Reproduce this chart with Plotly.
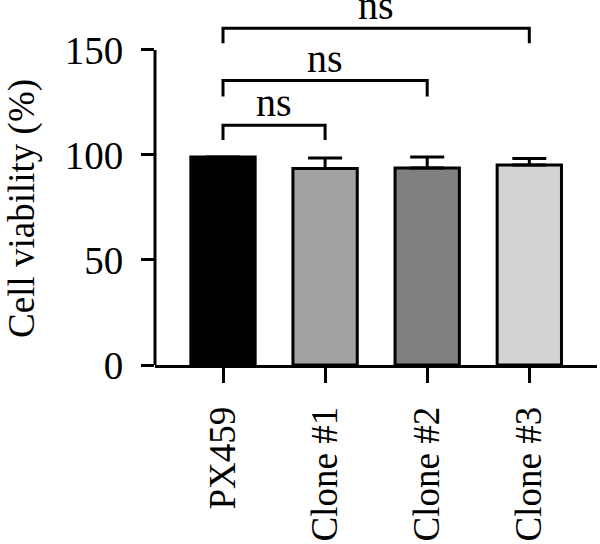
import plotly.graph_objects as go

categories = ["PX459", "Clone #1", "Clone #2", "Clone #3"]
means = [99.0, 93.6, 93.8, 95.2]
errors_up = [0.0, 5.0, 5.2, 3.1]
bar_colors = ["#000000", "#a3a3a3", "#808080", "#d3d3d3"]
y_ticks = [0, 50, 100, 150]
# brackets: (start category index, end category index, bracket y, leg bottom y, label)
brackets = [
    (0, 1, 114.1, 107.1, "ns"),
    (0, 2, 135.4, 127.8, "ns"),
    (0, 3, 160.3, 153.2, "ns"),
]

FONT = "Liberation Serif"

fig = go.Figure()
fig.add_trace(go.Bar(
    x=list(range(len(categories))),
    y=means,
    width=0.63,
    marker=dict(color=bar_colors, line=dict(color="black", width=3)),
    error_y=dict(type="data", array=errors_up, arrayminus=[0] * len(means),
                 symmetric=False, color="black", thickness=3, width=17),
    showlegend=False,
))

shapes = []
# y axis line only from 0 to 150
shapes.append(dict(type="line", xref="paper", yref="y", x0=0, x1=0,
                   y0=y_ticks[0], y1=y_ticks[-1], line=dict(color="black", width=3)))
annotations = []
for (a, b, yb, yl, lab) in brackets:
    shapes.append(dict(type="path", xref="x", yref="y",
                       path=f"M {a},{yl} L {a},{yb} L {b},{yb} L {b},{yl}",
                       line=dict(color="black", width=3)))
    annotations.append(dict(x=(a + b) / 2, y=yb, xref="x", yref="y", text=lab,
                            showarrow=False, yanchor="bottom", yshift=-2,
                            font=dict(family=FONT, size=40, color="black")))

annotations.append(dict(text="Cell viability (%)", xref="paper", yref="paper",
                        x=(22 - 155) / 442, y=(367 - 210) / 345, textangle=-90,
                        showarrow=False, xanchor="center", yanchor="middle",
                        font=dict(family=FONT, size=37, color="black")))

fig.update_layout(
    width=600, height=544,
    margin=dict(l=155, r=3, t=22, b=177),
    plot_bgcolor="white", paper_bgcolor="white",
    shapes=shapes, annotations=annotations,
    font=dict(family=FONT, size=34, color="black"),
)
fig.update_xaxes(
    range=[-0.666, 3.663],
    tickmode="array", tickvals=list(range(len(categories))), ticktext=categories,
    tickangle=-90, ticks="outside", ticklen=15, tickwidth=3, tickcolor="black",
    showline=True, linewidth=3, linecolor="black", showgrid=False, zeroline=False,
    ticklabelstandoff=9,
    tickfont=dict(family=FONT, size=37, color="black"),
)
fig.update_yaxes(
    range=[0, 163.3],
    tickmode="array", tickvals=y_ticks,
    ticks="outside", ticklen=13, tickwidth=3, tickcolor="black",
    showline=False, showgrid=False, zeroline=False,
    ticklabelstandoff=10,
    tickfont=dict(family=FONT, size=39, color="black"),
)

fig.write_html("out.html")
